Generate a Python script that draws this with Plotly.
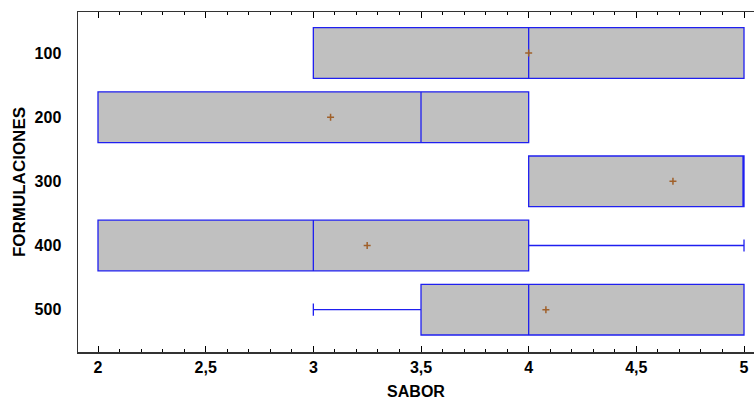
import plotly.graph_objects as go

categories = ["100", "200", "300", "400", "500"]
q1 = [3.0, 2.0, 4.0, 2.0, 3.5]
median = [4.0, 3.5, 5.0, 3.0, 4.0]
q3 = [5.0, 4.0, 5.0, 4.0, 5.0]
lower = [3.0, 2.0, 4.0, 2.0, 3.0]
upper = [5.0, 4.0, 5.0, 5.0, 5.0]
means = [4.0, 3.08, 4.67, 3.25, 4.08]

x_ticks = [2, 2.5, 3, 3.5, 4, 4.5, 5]
x_ticklabels = ["2", "2,5", "3", "3,5", "4", "4,5", "5"]

BLUE = "#1F1FF0"
FONT = "Liberation Sans, Arial, sans-serif"

fig = go.Figure()
for i, c in enumerate(categories):
    fig.add_trace(go.Box(
        y=[c], q1=[q1[i]], median=[median[i]], q3=[q3[i]],
        lowerfence=[lower[i]], upperfence=[upper[i]],
        orientation="h", width=0.79, whiskerwidth=0.24,
        fillcolor="#C0C0C0", line=dict(color=BLUE, width=1.3),
        boxpoints=False, showlegend=False, hoverinfo="skip",
    ))

fig.add_trace(go.Scatter(
    x=means, y=categories, mode="markers",
    marker=dict(symbol="cross-thin", size=5, line=dict(color="#A0602A", width=1.5)),
    showlegend=False, hoverinfo="skip",
))

fig.update_layout(
    width=754, height=400,
    margin=dict(l=78, r=0, t=12, b=48),
    paper_bgcolor="white", plot_bgcolor="white",
    font=dict(family=FONT, color="black"),
    xaxis=dict(
        range=[1.9071, 5.0464], tickmode="array", tickvals=x_ticks, ticktext=x_ticklabels,
        ticks="inside", ticklen=6, tickwidth=1, tickcolor="black",
        minor=dict(dtick=0.1, tick0=2, ticks="inside", ticklen=3, tickcolor="black", showgrid=False),
        showline=True, linecolor="#333333", linewidth=1.5, mirror="allticks",
        showgrid=False, zeroline=False, automargin=False, ticklabeloverflow="allow",
        tickfont=dict(family=FONT, size=16, color="black", weight="bold"),
        title=dict(text="<b>SABOR</b>", font=dict(family=FONT, size=16, color="black"), standoff=14),
    ),
    yaxis=dict(
        type="category", categoryorder="array", categoryarray=categories,
        range=[4.66, -0.64],
        ticks="", showline=True, linecolor="#333333", linewidth=1.5,
        showgrid=False, zeroline=False, ticklabelstandoff=12, automargin=False,
        tickfont=dict(family=FONT, size=16, color="black", weight="bold"),
        title=dict(text="<b>FORMULACIONES</b>", font=dict(family=FONT, size=17, color="black"), standoff=4),
    ),
)

fig.write_html(
    "out.html",
    config={"displayModeBar": False, "staticPlot": True},
    post_script="document.body.style.margin='0';document.body.style.overflow='hidden';",
)
